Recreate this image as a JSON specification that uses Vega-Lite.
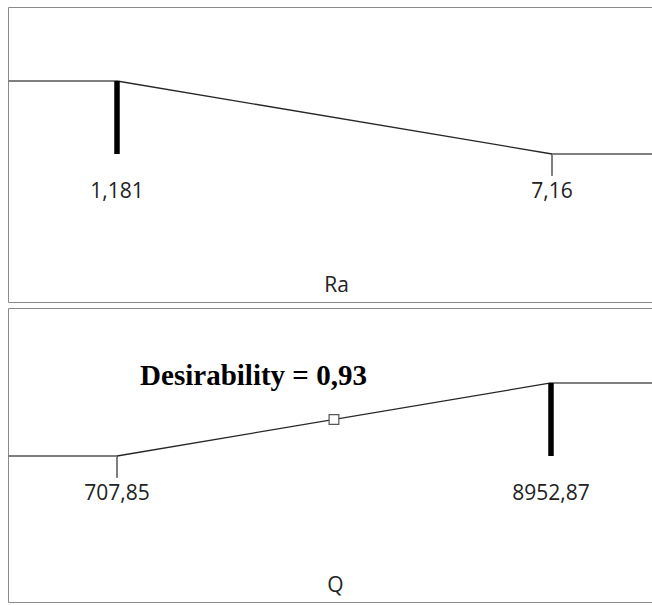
{
  "$schema": "https://vega.github.io/schema/vega-lite/v6.json",
  "padding": {"left": 7, "top": 6, "right": 0, "bottom": 0},
  "spacing": 6,
  "bounds": "flush",
  "config": {"view": {"stroke": "#8a8a8a", "strokeWidth": 1}},
  "vconcat": [
    {
      "width": 645,
      "height": 295,
      "data": {"values": [
        {"kind": "flat", "x": -2, "x2": 1.181, "y": 1, "y2": 1},
        {"kind": "slope", "x": 1.181, "x2": 7.16, "y": 1, "y2": 0},
        {"kind": "flat", "x": 7.16, "x2": 12, "y": 0, "y2": 0},
        {"kind": "bar", "x": 1.181, "x2": 1.181, "y": 0, "y2": 1},
        {"kind": "tick", "x": 7.16, "x2": 7.16, "y": 0, "y2": -0.3},
        {"kind": "label", "x": 1.181, "label": "1,181"},
        {"kind": "label", "x": 7.16, "label": "7,16"}
      ]},
      "layer": [
        {
          "transform": [{"filter": "datum.kind === 'flat' || datum.kind === 'tick'"}],
          "mark": {"type": "rule", "color": "#7f7f7f", "strokeWidth": 2, "clip": true},
          "encoding": {
            "x": {"field": "x", "type": "quantitative", "scale": {"domain": [-0.3172, 8.5482], "nice": false, "zero": false}, "axis": null},
            "x2": {"field": "x2"},
            "y": {"field": "y", "type": "quantitative", "scale": {"domain": [-2.0274, 2.0137], "nice": false, "zero": false}, "axis": null},
            "y2": {"field": "y2"}
          }
        },
        {
          "transform": [{"filter": "datum.kind === 'slope'"}],
          "mark": {"type": "rule", "color": "#262626", "strokeWidth": 1.3, "clip": true},
          "encoding": {
            "x": {"field": "x", "type": "quantitative", "scale": {"domain": [-0.3172, 8.5482], "nice": false, "zero": false}, "axis": null},
            "x2": {"field": "x2"},
            "y": {"field": "y", "type": "quantitative", "scale": {"domain": [-2.0274, 2.0137], "nice": false, "zero": false}, "axis": null},
            "y2": {"field": "y2"}
          }
        },
        {
          "transform": [{"filter": "datum.kind === 'bar'"}],
          "mark": {"type": "rule", "color": "#000000", "strokeWidth": 5.5},
          "encoding": {
            "x": {"field": "x", "type": "quantitative", "scale": {"domain": [-0.3172, 8.5482], "nice": false, "zero": false}, "axis": null},
            "y": {"field": "y", "type": "quantitative", "scale": {"domain": [-2.0274, 2.0137], "nice": false, "zero": false}, "axis": null},
            "y2": {"field": "y2"}
          }
        },
        {
          "transform": [{"filter": "datum.kind === 'label'"}],
          "mark": {"type": "text", "font": "Open Sans", "fontSize": 21, "color": "#222222", "baseline": "middle", "align": "center"},
          "encoding": {
            "x": {"field": "x", "type": "quantitative", "scale": {"domain": [-0.3172, 8.5482], "nice": false, "zero": false}, "axis": null},
            "y": {"datum": -0.527, "type": "quantitative", "scale": {"domain": [-2.0274, 2.0137], "nice": false, "zero": false}, "axis": null},
            "text": {"field": "label"}
          }
        },
        {
          "data": {"values": [{"label": "Ra"}]},
          "mark": {"type": "text", "font": "Open Sans", "fontSize": 21, "color": "#222222", "baseline": "middle", "align": "center"},
          "encoding": {
            "x": {"datum": 4.198, "type": "quantitative", "scale": {"domain": [-0.3172, 8.5482], "nice": false, "zero": false}, "axis": null},
            "y": {"datum": -1.808, "type": "quantitative", "scale": {"domain": [-2.0274, 2.0137], "nice": false, "zero": false}, "axis": null},
            "text": {"field": "label"}
          }
        }
      ]
    },
    {
      "width": 645,
      "height": 294,
      "data": {"values": [
        {"kind": "flat", "x": -5000, "x2": 707.85, "y": 0, "y2": 0},
        {"kind": "slope", "x": 707.85, "x2": 8952.87, "y": 0, "y2": 1},
        {"kind": "flat", "x": 8952.87, "x2": 20000, "y": 1, "y2": 1},
        {"kind": "bar", "x": 8952.87, "x2": 8952.87, "y": 0, "y2": 1},
        {"kind": "tick", "x": 707.85, "x2": 707.85, "y": 0, "y2": -0.3},
        {"kind": "label", "x": 707.85, "label": "707,85"},
        {"kind": "label", "x": 8952.87, "label": "8952,87"},
        {"kind": "current", "x": 4830, "y": 0.5}
      ]},
      "layer": [
        {
          "transform": [{"filter": "datum.kind === 'flat' || datum.kind === 'tick'"}],
          "mark": {"type": "rule", "color": "#7f7f7f", "strokeWidth": 2, "clip": true},
          "encoding": {
            "x": {"field": "x", "type": "quantitative", "scale": {"domain": [-1362.9, 10890.8], "nice": false, "zero": false}, "axis": null},
            "x2": {"field": "x2"},
            "y": {"field": "y", "type": "quantitative", "scale": {"domain": [-2.0, 2.027], "nice": false, "zero": false}, "axis": null},
            "y2": {"field": "y2"}
          }
        },
        {
          "transform": [{"filter": "datum.kind === 'slope'"}],
          "mark": {"type": "rule", "color": "#262626", "strokeWidth": 1.3, "clip": true},
          "encoding": {
            "x": {"field": "x", "type": "quantitative", "scale": {"domain": [-1362.9, 10890.8], "nice": false, "zero": false}, "axis": null},
            "x2": {"field": "x2"},
            "y": {"field": "y", "type": "quantitative", "scale": {"domain": [-2.0, 2.027], "nice": false, "zero": false}, "axis": null},
            "y2": {"field": "y2"}
          }
        },
        {
          "transform": [{"filter": "datum.kind === 'bar'"}],
          "mark": {"type": "rule", "color": "#000000", "strokeWidth": 5.5},
          "encoding": {
            "x": {"field": "x", "type": "quantitative", "scale": {"domain": [-1362.9, 10890.8], "nice": false, "zero": false}, "axis": null},
            "y": {"field": "y", "type": "quantitative", "scale": {"domain": [-2.0, 2.027], "nice": false, "zero": false}, "axis": null},
            "y2": {"field": "y2"}
          }
        },
        {
          "transform": [{"filter": "datum.kind === 'current'"}],
          "mark": {"type": "point", "shape": "square", "size": 95, "filled": true, "fill": "#ffffff", "stroke": "#555555", "strokeWidth": 1.2, "opacity": 1},
          "encoding": {
            "x": {"field": "x", "type": "quantitative", "scale": {"domain": [-1362.9, 10890.8], "nice": false, "zero": false}, "axis": null},
            "y": {"field": "y", "type": "quantitative", "scale": {"domain": [-2.0, 2.027], "nice": false, "zero": false}, "axis": null}
          }
        },
        {
          "transform": [{"filter": "datum.kind === 'label'"}],
          "mark": {"type": "text", "font": "Open Sans", "fontSize": 21, "color": "#222222", "baseline": "middle", "align": "center"},
          "encoding": {
            "x": {"field": "x", "type": "quantitative", "scale": {"domain": [-1362.9, 10890.8], "nice": false, "zero": false}, "axis": null},
            "y": {"datum": -0.52, "type": "quantitative", "scale": {"domain": [-2.0, 2.027], "nice": false, "zero": false}, "axis": null},
            "text": {"field": "label"}
          }
        },
        {
          "data": {"values": [{"label": "Q"}]},
          "mark": {"type": "text", "font": "Open Sans", "fontSize": 21, "color": "#222222", "baseline": "middle", "align": "center"},
          "encoding": {
            "x": {"datum": 4859, "type": "quantitative", "scale": {"domain": [-1362.9, 10890.8], "nice": false, "zero": false}, "axis": null},
            "y": {"datum": -1.78, "type": "quantitative", "scale": {"domain": [-2.0, 2.027], "nice": false, "zero": false}, "axis": null},
            "text": {"field": "label"}
          }
        },
        {
          "data": {"values": [{"label": "Desirability = 0,93"}]},
          "mark": {"type": "text", "font": "Liberation Serif", "fontSize": 29, "fontWeight": "bold", "color": "#000000", "baseline": "alphabetic", "align": "center"},
          "encoding": {
            "x": {"datum": 3301, "type": "quantitative", "scale": {"domain": [-1362.9, 10890.8], "nice": false, "zero": false}, "axis": null},
            "y": {"datum": 0.968, "type": "quantitative", "scale": {"domain": [-2.0, 2.027], "nice": false, "zero": false}, "axis": null},
            "text": {"field": "label"}
          }
        }
      ]
    }
  ]
}
